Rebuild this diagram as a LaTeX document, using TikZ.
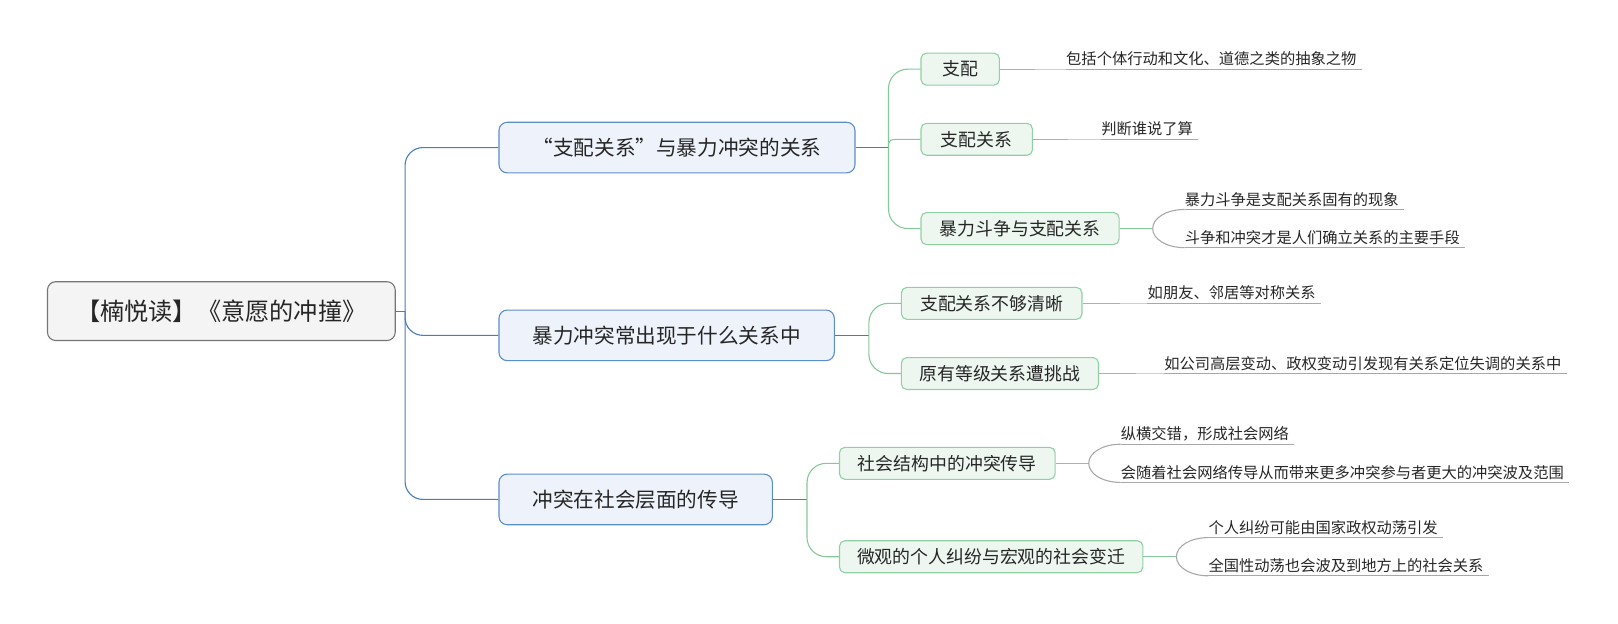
\documentclass[tikz,border=0pt]{standalone}
\usepackage{fontspec}
\setmainfont{Noto Sans CJK SC}
\usetikzlibrary{calc}
\definecolor{rootfill}{HTML}{F4F4F4}
\definecolor{rootdraw}{HTML}{757575}
\definecolor{bluefill}{HTML}{EEF3FB}
\definecolor{bluedraw}{HTML}{5B8DC9}
\definecolor{blueline}{HTML}{4A7DB8}
\definecolor{greenfill}{HTML}{EDF7F0}
\definecolor{greendraw}{HTML}{8FD1A4}
\definecolor{greenline}{HTML}{85C999}
\definecolor{grayline}{HTML}{A8A8A8}
\definecolor{fadeline}{HTML}{CFCFCF}
\definecolor{txt}{HTML}{262626}
\begin{document}
\begin{tikzpicture}[x=0.75pt,y=-0.75pt,
  every node/.style={text=txt},
  rootbox/.style={draw=rootdraw, fill=rootfill, line width=0.8pt, rounded corners=6pt, minimum height=42.75pt, inner xsep=0pt, font=\fontsize{17.6}{20}\selectfont},
  onebox/.style={draw=bluedraw, fill=bluefill, line width=0.8pt, rounded corners=6pt, minimum height=36.75pt, inner xsep=0pt, anchor=west, font=\fontsize{15}{18}\selectfont},
  twobox/.style={draw=greendraw, fill=greenfill, line width=0.8pt, rounded corners=4pt, minimum height=23.25pt, inner xsep=0pt, anchor=west, font=\fontsize{13}{15}\selectfont},
  leaf/.style={anchor=south west, inner xsep=0pt, inner ysep=3pt, text depth=0pt, font=\fontsize{11.1}{13}\selectfont},
  blink/.style={draw=blueline, line width=0.8pt, rounded corners=13pt},
  glink/.style={draw=greenline, line width=0.8pt, rounded corners=14pt},
  flink/.style={draw=fadeline, line width=0.8pt},
  klink/.style={draw=grayline, line width=0.8pt},
]
\useasboundingbox (0,0) rectangle (1568,604.7);

% root
\node[rootbox, minimum width=252.75pt] (root) at (214.5,301.5) {【楠悦读】《意愿的冲撞》};

% level 1
\node[onebox, minimum width=258.75pt] (b1) at (483,143) {“支配关系”与暴力冲突的关系};
\node[onebox, minimum width=243.75pt] (b2) at (483,325) {暴力冲突常出现于什么关系中};
\node[onebox, minimum width=198.75pt] (b3) at (483,484) {冲突在社会层面的传导};

% level 2
\node[twobox, minimum width=57pt] (c11) at (892,67) {支配};
\node[twobox, minimum width=81pt] (c12) at (892,135) {支配关系};
\node[twobox, minimum width=144pt] (c13) at (892,221.5) {暴力斗争与支配关系};
\node[twobox, minimum width=131.25pt] (c21) at (873,294) {支配关系不够清晰};
\node[twobox, minimum width=143.25pt] (c22) at (873,362) {原有等级关系遭挑战};
\node[twobox, minimum width=156.75pt] (c31) at (813,449) {社会结构中的冲突传导};
\node[twobox, minimum width=220.5pt] (c32) at (813,539.5) {微观的个人纠纷与宏观的社会变迁};

% leaves
\node[leaf] (l11) at (1033,67) {包括个体行动和文化、道德之类的抽象之物};
\node[leaf] (l12) at (1067,135) {判断谁说了算};
\node[leaf] (l131) at (1148,203) {暴力斗争是支配关系固有的现象};
\node[leaf] (l132) at (1148,240) {斗争和冲突才是人们确立关系的主要手段};
\node[leaf] (l21) at (1112,294) {如朋友、邻居等对称关系};
\node[leaf] (l22) at (1128,362) {如公司高层变动、政权变动引发现有关系定位失调的关系中};
\node[leaf] (l311) at (1086,430.5) {纵横交错，形成社会网络};
\node[leaf] (l312) at (1086,467.5) {会随着社会网络传导从而带来更多冲突参与者更大的冲突波及范围};
\node[leaf] (l321) at (1171,521) {个人纠纷可能由国家政权动荡引发};
\node[leaf] (l322) at (1171,558) {全国性动荡也会波及到地方上的社会关系};

% root connectors
\draw[blink] (root.east) -- ++(9,0) coordinate (r0);
\draw[blink] (r0) |- (b1.west);
\draw[blink] (r0) |- (b2.west);
\draw[blink] (r0) |- (b3.west);

% level 1 -> level 2
\draw[blink] (b1.east) -- ++(32,0) coordinate (t1);
\draw[glink] (t1) |- (c11.west);
\draw[glink, sharp corners] (t1) .. controls (t1 |- c12.west) .. ($(t1 |- c12.west)+(16,0)$) -- (c12.west);
\draw[glink] (t1) |- (c13.west);

\draw[blink] (b2.east) -- ++(33,0) coordinate (t2);
\draw[glink] (t2) |- (c21.west);
\draw[glink] (t2) |- (c22.west);

\draw[blink] (b3.east) -- ++(33,0) coordinate (t3);
\draw[glink] (t3) |- (c31.west);
\draw[glink] (t3) |- (c32.west);

% single leaves
\draw[glink] (c11.east) -- ++(34,0) coordinate (g11);
\draw[flink] (g11) -- (l11.south west);
\draw[klink] (l11.south west) -- ($(l11.south east)+(5,0)$);

\draw[glink] (c12.east) -- ++(34,0) coordinate (g12);
\draw[flink] (g12) -- (l12.south west);
\draw[klink] (l12.south west) -- ($(l12.south east)+(5,0)$);

\draw[glink] (c21.east) -- ++(36,0) coordinate (g21);
\draw[flink] (g21) -- (l21.south west);
\draw[klink] (l21.south west) -- ($(l21.south east)+(5,0)$);

\draw[glink] (c22.east) -- ++(36,0) coordinate (g22);
\draw[flink] (g22) -- (l22.south west);
\draw[klink] (l22.south west) -- ($(l22.south east)+(5,0)$);

% bracketed leaves
\draw[glink] (c13.east) -- ++(32,0) coordinate (k13);
\draw[klink] (l131.south west) .. controls +(-17.7,0) and +(0,-10.2) .. (k13) .. controls +(0,10.2) and +(-17.7,0) .. (l132.south west);
\draw[klink] (l131.south west) -- ($(l131.south east)+(5,0)$);
\draw[klink] (l132.south west) -- ($(l132.south east)+(5,0)$);

\draw[glink] (c31.east) -- ++(32,0) coordinate (k31);
\draw[klink] (l311.south west) .. controls +(-17.7,0) and +(0,-10.2) .. (k31) .. controls +(0,10.2) and +(-17.7,0) .. (l312.south west);
\draw[klink] (l311.south west) -- ($(l311.south east)+(5,0)$);
\draw[klink] (l312.south west) -- ($(l312.south east)+(5,0)$);

\draw[glink] (c32.east) -- ++(32,0) coordinate (k32);
\draw[klink] (l321.south west) .. controls +(-17.7,0) and +(0,-10.2) .. (k32) .. controls +(0,10.2) and +(-17.7,0) .. (l322.south west);
\draw[klink] (l321.south west) -- ($(l321.south east)+(5,0)$);
\draw[klink] (l322.south west) -- ($(l322.south east)+(5,0)$);
\end{tikzpicture}
\end{document}
